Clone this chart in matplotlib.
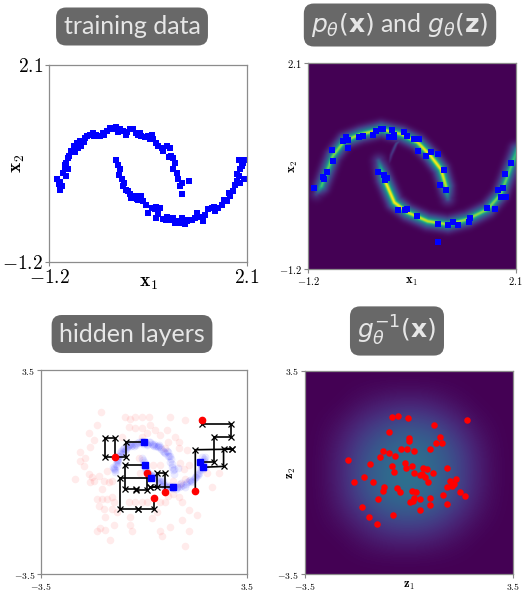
import numpy as np
import matplotlib
matplotlib.use('Agg')
import matplotlib.pyplot as plt

plt.rcParams['mathtext.fontset'] = 'cm'

moon_a_x = [-1.07, -1.02, -1.01, -0.99, -0.97, -0.94, -0.91, -0.88, -0.86, -0.83,
            -0.79, -0.74, -0.69, -0.66, -0.60, -0.57, -0.52, -0.47, -0.41, -0.35,
            -0.30, -0.24, -0.19, -0.13, -0.08, -0.02, 0.04, 0.08, 0.15, 0.20,
            0.25, 0.29, 0.34, 0.40, 0.45, 0.51, 0.54, 0.58, 0.62, 0.68,
            0.76, 0.81, 0.84, 0.87, 0.90, 0.87, 0.93, 0.95, 1.01, 1.01,
            1.14, 0.98, -0.76, -0.88, -0.92, -0.45, -0.28, -0.05, 0.10, 0.32,
            0.48, 0.70, 0.80, -0.62, -0.72, -0.93, -1.04]
moon_a_y = [0.19, 0.13, 0.01, 0.07, 0.29, 0.37, 0.46, 0.54, 0.57, 0.65,
            0.74, 0.79, 0.82, 0.74, 0.88, 0.90, 0.92, 0.96, 0.93, 0.90,
            0.96, 0.99, 1.04, 1.02, 1.06, 1.02, 0.99, 0.92, 1.03, 1.02,
            0.96, 0.92, 0.90, 0.89, 0.90, 0.92, 0.85, 0.79, 0.74, 0.71,
            0.74, 0.71, 0.57, 0.54, 0.46, 0.35, 0.29, 0.18, 0.12, -0.07,
            0.15, 0.07, 0.64, 0.35, 0.23, 0.90, 0.92, 0.98, 0.98, 0.95,
            0.86, 0.65, 0.55, 0.80, 0.70, 0.42, 0.10]
moon_b_x = [-0.08, -0.05, -0.02, -0.03, 0.01, 0.04, 0.09, 0.15, 0.17, 0.23,
            0.29, 0.34, 0.37, 0.42, 0.45, 0.51, 0.56, 0.59, 0.65, 0.59,
            0.70, 0.76, 0.81, 0.87, 0.93, 0.98, 1.01, 1.06, 1.12, 1.18,
            1.23, 1.26, 1.32, 1.37, 1.40, 1.45, 1.51, 1.57, 1.62, 1.68,
            1.71, 1.76, 1.82, 1.87, 1.90, 1.93, 1.96, 1.98, 2.01, 1.97,
            2.07, 2.04, 2.05, 1.99, 0.05, 0.12, 0.26, 0.62, 0.75, 0.90,
            1.10, 1.55, 1.80, 1.94]
moon_b_y = [0.50, 0.43, 0.35, 0.26, 0.18, 0.07, 0.01, -0.07, -0.13, -0.10,
            -0.16, -0.10, -0.18, -0.24, -0.38, -0.30, -0.32, -0.28, -0.30, -0.46,
            -0.48, -0.44, -0.49, -0.46, -0.52, -0.55, -0.46, -0.56, -0.49, -0.49,
            -0.46, -0.38, -0.44, -0.52, -0.41, -0.32, -0.30, -0.35, -0.30, -0.24,
            -0.16, -0.18, -0.10, -0.02, 0.09, 0.15, 0.23, 0.35, 0.40, 0.51,
            0.51, 0.46, 0.18, 0.12, 0.12, -0.02, -0.14, -0.40, -0.50, -0.55,
            -0.52, -0.28, -0.05, 0.28]

# --- panel 2: samples g(z) and the ridges of the learnt density p(x)
samp_x = [-1.10, -0.96, -0.94, -0.89, -0.81, -0.82, -0.65, -0.59, -0.57, -0.56,
          -0.39, -0.33, -0.17, -0.12, -0.04, -0.01, 0.13, 0.09, 0.17, 0.16,
          0.33, 0.38, 0.48, 0.57, 0.54, 0.68, 0.75, 0.87, 0.96, 0.90,
          1.00, -0.09, 0.00, 0.02, 0.05, 0.23, 0.34, 0.38, 0.53, 0.86,
          1.02, 1.10, 1.19, 1.35, 1.38, 1.65, 1.77, 1.82, 1.90, 1.86,
          1.94, 1.93, 2.03, 0.87]
samp_y = [0.10, 0.28, 0.24, 0.35, 0.53, 0.71, 0.85, 0.91, 0.87, 0.74,
          0.91, 0.93, 0.95, 1.01, 1.04, 1.04, 1.02, 0.91, 0.91, 0.95,
          0.99, 0.93, 0.89, 0.88, 0.69, 0.61, 0.67, 0.65, 0.39, 0.15,
          0.07, 0.35, 0.30, 0.23, 0.26, -0.26, -0.26, -0.24, -0.35, -0.48,
          -0.49, -0.44, -0.49, -0.44, -0.39, -0.23, -0.24, 0.07, 0.10, -0.04,
          -0.05, 0.32, 0.50, -0.76]

ridge_a_x = [-1.07, -0.99, -0.81, -0.62, -0.36, -0.04, 0.28, 0.54, 0.75, 0.91, 0.99, 1.02]
ridge_a_y = [0.00, 0.12, 0.60, 0.85, 0.95, 1.03, 0.95, 0.82, 0.60, 0.39, 0.12, -0.08]
ridge_a_amp = [0.2, 0.7, 0.8, 0.85, 0.9, 0.92, 0.92, 0.95, 1.0, 1.0, 0.9, 0.3]
ridge_b_x = [-0.08, 0.01, 0.17, 0.38, 0.70, 1.02, 1.33, 1.65, 1.86, 1.97, 2.07, 2.12]
ridge_b_y = [0.52, 0.23, -0.14, -0.30, -0.44, -0.49, -0.41, -0.25, -0.01, 0.28, 0.55, 0.70]
ridge_b_amp = [0.3, 1.0, 1.0, 0.95, 0.92, 0.88, 0.85, 0.82, 0.8, 0.75, 0.7, 0.6]
ridge_c_x = [0.30, 0.20, 0.12, 0.08]
ridge_c_y = [0.88, 0.80, 0.62, 0.46]
ridge_c_amp = [0.15, 0.22, 0.15, 0.03]

# --- panel 3: hidden-layer trajectories (red start -> blue end) and latent cloud
hidden_x = [-1.47, -1.60, -1.89, -1.72, -2.17, -2.00, -2.06, -1.89, -1.77, -1.72,
            -1.55, -1.38, -1.43, -1.21, -1.10, -1.27, -1.60, -1.43, -1.27, -1.10,
            -1.04, -1.55, -1.38, -1.10, -0.93, -1.32, -1.49, -1.04, -1.32, -1.60,
            -1.15, -0.48, -0.48, -0.42, -0.64, -0.48, -0.31, -0.08, -0.53, -0.31,
            -0.08, -0.08, 0.09, -0.76, -0.19, -0.14, -0.53, -0.31, -0.08, 0.09,
            -1.83, -1.83, -2.34, -2.17, 0.15, 0.88, 1.39, 0.20, 0.37, 0.77,
            0.54, 1.05, 0.82, 1.16, 0.71, 1.16, 1.44, 0.31, 0.54, 1.22,
            1.33, 1.50, 0.99, 1.22, 1.39, 0.99, 1.16, 1.27, 0.54, 0.71,
            0.82, 1.50, 1.78, 1.27, 0.88, 1.50, 0.54, 0.60, 1.39, 2.12,
            2.29, 2.52, 0.43, 0.26]
hidden_y = [2.06, 1.61, 1.33, 1.10, 0.71, 0.49, 0.21, -0.07, -0.18, -0.30,
            -0.13, -0.30, -0.58, -0.35, -0.30, 0.04, -0.91, -0.91, -0.91, -0.86,
            -1.02, -1.14, -1.25, -1.25, -1.36, -1.53, -1.92, -1.81, -1.98, -2.03,
            -2.31, -1.53, -1.81, -2.03, 1.89, 1.83, 1.89, 1.89, 1.55, 1.50,
            1.50, 1.22, 1.33, 1.22, 0.49, -0.02, -1.02, -1.02, -1.02, -1.02,
            0.88, -0.35, -0.24, 0.38, 1.89, 1.89, 1.78, 1.61, 1.44, 1.44,
            1.27, 1.22, 1.05, 1.05, 0.82, 0.82, 0.77, 0.26, 0.26, 0.32,
            0.10, 0.26, -0.30, -0.41, -0.24, -0.74, -0.86, -1.02, -1.02, -1.02,
            -0.80, -1.30, -1.47, -1.64, -1.86, -2.03, -2.03, -2.20, -2.54, -0.02,
            -0.52, -0.02, -1.36, -1.58]

flow_x = [[-0.98, -0.98, -1.34, -1.34, -0.61, -0.61, -0.02],
          [0.09, 0.09, -0.28, -0.28, -0.67, -0.67, 0.03],
          [0.34, 0.34, -0.22, -0.22, -0.81, -0.81, 0.24],
          [0.71, 0.71, 0.43, 0.43, 0.18, 0.18, 0.96],
          [1.97, 1.97, 2.94, 2.94, 2.35, 2.35, 1.90],
          [1.73, 1.73, 2.97, 2.97, 2.69, 2.69, 1.99]]
flow_y = [[0.53, 1.18, 1.18, 0.51, 0.51, 1.03, 1.03],
          [-0.02, -0.60, -0.60, -0.58, -0.58, 0.24, 0.24],
          [-0.89, -1.25, -1.25, -1.25, -1.25, -0.21, -0.21],
          [-0.69, -0.04, -0.04, -0.52, -0.52, -0.52, -0.52],
          [1.80, 1.65, 1.65, 1.20, 1.20, 0.36, 0.36],
          [-0.64, 0.77, 0.79, 0.81, 0.81, 0.20, 0.17]]

# --- panel 4: g^-1(x) of the training points, over a coarse latent histogram
latent_x = [-0.58, -0.36, -0.02, -0.65, 0.85, 1.97, 0.02, 0.00, 1.07, 0.93,
            1.12, -0.25, -0.06, 0.17, 0.71, -0.87, -0.67, -0.45, -0.97, -2.03,
            -1.30, -0.11, 0.11, -0.09, -0.56, 0.48, 0.45, 0.17, 0.60, 0.81,
            1.29, -0.50, 0.39, 0.54, -1.50, -1.84, -1.19, 1.40, 1.60, 1.52,
            1.46, 1.29, 0.65, -0.39, -0.82, -0.88, 0.11, 0.23, 1.72, 1.91,
            1.15, -1.04, 0.17, 0.04, 0.14, 0.39, 0.71, 0.70, 1.28, -1.58,
            0.37, -1.33, -0.53, -1.06, -0.29]
latent_y = [1.91, 1.94, 1.87, 1.38, 1.64, 1.81, 1.18, 1.08, 1.23, 1.01,
            1.03, 0.81, 0.81, 0.75, 0.81, 0.73, 0.67, 0.56, 0.53, 0.43,
            0.29, 0.34, 0.21, 0.16, 0.22, 0.14, -0.06, -0.01, 0.11, -0.01,
            0.14, 0.02, -0.09, -0.14, -0.15, -0.31, -0.34, -0.28, -0.22, -0.39,
            -0.48, -0.50, -0.33, -0.54, -0.51, -0.64, -0.63, -0.66, -0.67, -0.80,
            -0.76, -0.90, -0.87, -1.01, -0.99, -0.90, -0.87, -1.10, -1.08, -1.19,
            -1.30, -1.52, -1.47, -1.78, -0.68]
latent_hist = [[0.00, 0.00, 0.00, 0.00, 0.00, 0.00, 0.00, 0.00, 0.00],
               [0.00, 0.00, 0.04, 0.08, 0.10, 0.08, 0.03, 0.00, 0.00],
               [0.00, 0.04, 0.14, 0.22, 0.26, 0.23, 0.13, 0.03, 0.00],
               [0.00, 0.08, 0.22, 0.32, 0.36, 0.33, 0.22, 0.07, 0.00],
               [0.00, 0.09, 0.25, 0.35, 0.38, 0.34, 0.24, 0.08, 0.00],
               [0.00, 0.08, 0.23, 0.34, 0.37, 0.33, 0.22, 0.07, 0.00],
               [0.00, 0.04, 0.13, 0.22, 0.25, 0.22, 0.12, 0.03, 0.00],
               [0.00, 0.00, 0.04, 0.08, 0.09, 0.07, 0.03, 0.00, 0.00],
               [0.00, 0.00, 0.00, 0.00, 0.00, 0.00, 0.00, 0.00, 0.00]]


def ridge_density(gx, gy, rx, ry, amp, core=0.025, glow=0.075):
    # distance to the ridge polyline, turned into a narrow band
    rx, ry, amp = np.asarray(rx), np.asarray(ry), np.asarray(amp)
    out = np.zeros_like(gx)
    for i in range(len(rx) - 1):
        dx, dy = rx[i + 1] - rx[i], ry[i + 1] - ry[i]
        t = ((gx - rx[i]) * dx + (gy - ry[i]) * dy) / (dx * dx + dy * dy)
        t = np.clip(t, 0, 1)
        d2 = (gx - rx[i] - t * dx) ** 2 + (gy - ry[i] - t * dy) ** 2
        a = amp[i] + t * (amp[i + 1] - amp[i])
        val = a * (0.45 * np.exp(-d2 / (2 * core ** 2)) + 0.55 * np.exp(-d2 / (2 * glow ** 2)))
        out = np.maximum(out, val)
    return out


def style(ax, lo, hi, size):
    ax.set_xlim(lo, hi)
    ax.set_ylim(lo, hi)
    labels = ['$%s$' % ('%.1f' % v) for v in (lo, hi)]
    ax.set_xticks([lo, hi])
    ax.set_xticklabels(labels, fontsize=size)
    ax.set_yticks([lo, hi])
    ax.set_yticklabels(labels, fontsize=size)
    ax.tick_params(color='#888888', length=3, width=0.8, pad=1.5)
    for s in ax.spines.values():
        s.set_color('#8c8c8c')
        s.set_linewidth(0.9)


def title(x, y, s):
    fig.text(x, y, s, ha='center', va='center', fontsize=18, color='#e6e6e6',
             family=['Lato', 'DejaVu Sans'], math_fontfamily='dejavusans',
             bbox=dict(boxstyle='round,pad=0.3,rounding_size=0.4', fc='#686868', ec='none'))


fig = plt.figure(figsize=(5.22, 5.94), dpi=100)

ax1 = fig.add_axes([0.094, 0.559, 0.379, 0.332])
ax2 = fig.add_axes([0.590, 0.547, 0.398, 0.347])
ax3 = fig.add_axes([0.079, 0.033, 0.395, 0.344])
ax4 = fig.add_axes([0.584, 0.033, 0.398, 0.343])

# panel 1
ax1.scatter(moon_a_x + moon_b_x, moon_a_y + moon_b_y, marker='s', s=20, color='#0000ff', lw=0)
style(ax1, -1.2, 2.1, 14)
ax1.set_xlabel(r'$\mathbf{x}_1$', fontsize=14, labelpad=-10)
ax1.set_ylabel(r'$\mathbf{x}_2$', fontsize=14, labelpad=-18)

# panel 2
g = np.linspace(-1.2, 2.1, 420)
gx, gy = np.meshgrid(g, g)
dens = np.maximum(ridge_density(gx, gy, ridge_a_x, ridge_a_y, ridge_a_amp),
                  ridge_density(gx, gy, ridge_b_x, ridge_b_y, ridge_b_amp))
dens = np.maximum(dens, ridge_density(gx, gy, ridge_c_x, ridge_c_y, ridge_c_amp, 0.012, 0.02))
ax2.imshow(dens, extent=[-1.2, 2.1, -1.2, 2.1], origin='lower', cmap='viridis',
           vmin=0, vmax=1, aspect='auto')
ax2.scatter(samp_x, samp_y, marker='s', s=24, color='#0000ff', lw=0, zorder=3)
style(ax2, -1.2, 2.1, 7.5)
ax2.set_xlabel(r'$\mathbf{x}_1$', fontsize=9, labelpad=-9)
ax2.set_ylabel(r'$\mathbf{x}_2$', fontsize=9, labelpad=-15)

# panel 3
ax3.scatter(hidden_x, hidden_y, s=30, color='red', alpha=0.08, lw=0)
ax3.scatter(moon_a_x + moon_b_x, moon_a_y + moon_b_y, s=32, color='blue', alpha=0.08, lw=0)
for px, py in zip(flow_x, flow_y):
    ax3.plot(px, py, color='black', lw=1.2, zorder=3)
    ax3.plot(px[1:-1], py[1:-1], 'x', color='black', ms=4, mew=0.9, zorder=4)
    ax3.plot(px[0], py[0], 'o', color='red', ms=4.5, zorder=5)
    ax3.plot(px[-1], py[-1], 's', color='blue', ms=4.5, zorder=5)
style(ax3, -3.5, 3.5, 7)

# panel 4
ax4.imshow(latent_hist, extent=[-3.5, 3.5, -3.5, 3.5], cmap='viridis', vmin=0, vmax=1,
           interpolation='bicubic', aspect='auto')
ax4.scatter(latent_x, latent_y, s=22, color='red', lw=0, zorder=3)
style(ax4, -3.5, 3.5, 7)
ax4.set_xlabel(r'$\mathbf{z}_1$', fontsize=9, labelpad=-9)
ax4.set_ylabel(r'$\mathbf{z}_2$', fontsize=9, labelpad=-15)

title(0.2529, 0.9554, 'training data')
title(0.7663, 0.9579, r'$p_\theta(\mathbf{x})$ and $g_\theta(\mathbf{z})$')
title(0.2529, 0.4377, 'hidden layers')
title(0.7605, 0.4428, r'$g_\theta^{-1}(\mathbf{x})$')

fig.savefig('out.png', dpi=100)
